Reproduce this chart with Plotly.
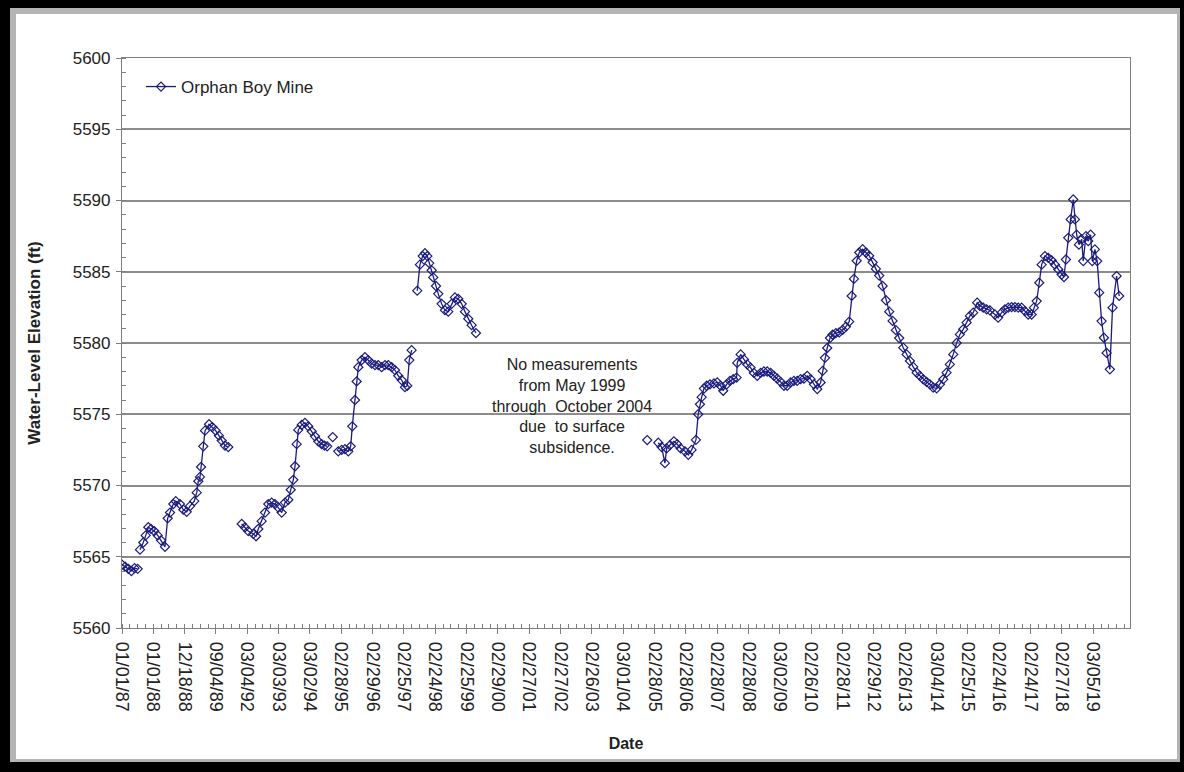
import plotly.graph_objects as go

# ---------------- data ----------------
# x is measured in axis units: one unit per minor tick, a date label every 4 units
tick_labels = ["01/01/87", "01/01/88", "12/18/88", "09/04/89", "03/04/92", "03/03/93",
               "03/02/94", "02/28/95", "02/29/96", "02/25/97", "02/24/98", "02/25/99",
               "02/29/00", "02/27/01", "02/27/02", "02/26/03", "03/01/04", "02/28/05",
               "02/28/06", "02/28/07", "02/28/08", "03/02/09", "02/26/10", "02/28/11",
               "02/29/12", "02/26/13", "03/04/14", "02/25/15", "02/24/16", "02/24/17",
               "02/27/18", "03/05/19"]
tick_pos = [4 * i for i in range(len(tick_labels))]

seg1987_x = [0, 0.4, 0.8, 1.2, 1.6, 2.0]
seg1987_y = [5564.45, 5564.3, 5564.15, 5564.0, 5564.2, 5564.15]

seg1988_x = [2.3, 2.72, 3.03, 3.36, 3.70, 4.12, 4.56, 4.98, 5.49, 5.83, 6.13, 6.55, 6.86, 7.40,
             7.83, 8.26, 8.68, 9.23, 9.54, 9.74, 9.96, 10.09, 10.38, 10.60, 11.11, 11.53, 11.96,
             12.38, 12.73, 13.15, 13.57]
seg1988_y = [5565.5, 5566.0, 5566.5, 5567.07, 5566.95, 5566.8, 5566.5, 5566.15, 5565.7, 5567.7,
             5568.1, 5568.7, 5568.9, 5568.7, 5568.3, 5568.15, 5568.55, 5568.9, 5569.5, 5570.3,
             5570.6, 5571.3, 5572.75, 5573.85, 5574.3, 5574.1, 5573.85, 5573.5, 5573.15, 5572.8,
             5572.7]

seg1992_x = [15.28, 15.70, 16.12, 16.76, 17.11, 17.40, 17.83, 18.26, 18.68, 19.11, 19.53, 19.95,
             20.39, 20.81, 21.23, 21.54, 21.87, 22.09, 22.30, 22.51, 22.94, 23.36, 23.78, 24.22,
             24.64, 25.06, 25.49, 25.85, 26.2]
seg1992_y = [5567.3, 5567.06, 5566.8, 5566.6, 5566.44, 5566.95, 5567.5, 5568.1, 5568.7, 5568.8,
             5568.7, 5568.45, 5568.1, 5568.8, 5569.0, 5569.7, 5570.4, 5571.35, 5572.9, 5573.9,
             5574.25, 5574.4, 5574.15, 5573.8, 5573.45, 5573.1, 5572.9, 5572.8, 5572.75]

single1994_x = [26.9]
single1994_y = [5573.4]

seg1995_x = [27.61, 28.05, 28.47, 28.89, 29.20, 29.40, 29.75, 29.96, 30.17, 30.60, 31.02, 31.44,
             31.88, 32.30, 32.72, 33.15, 33.58, 34.00, 34.43, 34.85, 35.27, 35.71, 36.13, 36.42,
             36.68, 36.98]
seg1995_y = [5572.4, 5572.5, 5572.55, 5572.4, 5572.75, 5574.15, 5576.0, 5577.3, 5578.3, 5578.8,
             5579.0, 5578.8, 5578.55, 5578.45, 5578.45, 5578.3, 5578.45, 5578.45, 5578.3, 5578.1,
             5577.7, 5577.4, 5576.9, 5577.0, 5578.8, 5579.5]

seg1997_x = [37.70, 38.04, 38.39, 38.68, 38.98, 39.23, 39.54, 39.74, 40.09, 40.38, 40.81, 41.23,
             41.66, 42.09, 42.51, 42.93, 43.37, 43.79, 44.21, 44.64, 45.19]
seg1997_y = [5583.67, 5585.5, 5586.1, 5586.3, 5586.1, 5585.6, 5585.1, 5584.6, 5584.0, 5583.45,
             5582.75, 5582.3, 5582.2, 5582.75, 5583.2, 5583.1, 5582.75, 5582.2, 5581.7, 5581.25,
             5580.7]

single2004_x = [67.06]
single2004_y = [5573.19]

seg2005_x = [68.47, 68.90, 69.32, 69.54, 69.96, 70.47, 70.89, 71.33, 71.88, 72.30, 72.73, 73.28,
             73.57, 73.79, 74.01, 74.30, 74.65, 75.07, 75.58, 76.00, 76.43, 76.76, 77.20, 77.62,
             78.04, 78.47, 78.55, 78.99, 79.41, 79.83, 80.26, 80.68, 81.11, 81.54, 81.96, 82.38,
             82.82, 83.24, 83.66, 84.09, 84.51, 84.93, 85.37, 85.79, 86.21, 86.65, 87.07, 87.49,
             87.92, 88.35, 88.77, 89.20, 89.46, 89.75, 90.04, 90.39, 90.73, 91.15, 91.57, 92.01,
             92.43, 92.85, 93.16, 93.45, 93.80, 94.13, 94.56, 94.98, 95.40, 95.84, 96.26, 96.68,
             97.11, 97.54, 97.96, 98.39, 98.81, 99.23, 99.75, 100.18, 100.60, 101.02, 101.46,
             101.88, 102.30, 102.73, 103.15, 103.57, 104.01, 104.43, 104.85, 105.28, 105.70,
             106.13, 106.56, 106.98, 107.40, 107.84, 108.26, 108.68, 109.19, 109.53, 109.96,
             110.39, 110.81, 111.45, 111.87, 112.31, 112.73, 113.15, 113.58, 114.00, 114.43,
             114.86, 115.28, 115.70, 116.14, 116.43, 116.78, 117.11, 117.42, 117.84, 118.26,
             118.69, 119.12, 119.54, 119.97, 120.27, 120.52, 120.82, 121.12, 121.45, 121.67,
             121.89, 122.18, 122.53, 122.73, 123.07, 123.37, 123.67, 123.88, 124.22, 124.51,
             124.77, 125.07, 125.37, 125.71, 126.13, 126.47, 126.99, 127.32]
seg2005_y = [5573.0, 5572.7, 5571.57, 5572.6, 5572.84, 5573.1, 5572.9, 5572.6, 5572.4, 5572.15,
             5572.5, 5573.2, 5575.0, 5575.7, 5576.2, 5576.8, 5577.0, 5577.1, 5577.16, 5577.23,
             5577.0, 5576.65, 5577.1, 5577.34, 5577.46, 5577.57, 5578.6, 5579.2, 5578.85, 5578.5,
             5578.27, 5577.9, 5577.7, 5577.9, 5578.0, 5578.0, 5577.9, 5577.7, 5577.5, 5577.27,
             5577.0, 5577.0, 5577.23, 5577.34, 5577.34, 5577.46, 5577.5, 5577.7, 5577.46, 5577.1,
             5576.77, 5577.23, 5578.04, 5578.96, 5579.65, 5580.35, 5580.58, 5580.7, 5580.74,
             5580.92, 5581.15, 5581.5, 5583.3, 5584.5, 5585.77, 5586.35, 5586.58, 5586.35,
             5586.12, 5585.66, 5585.2, 5584.73,
             5584.0, 5583.0, 5582.2, 5581.55, 5580.9, 5580.35, 5579.67, 5579.2, 5578.74, 5578.32,
             5577.92, 5577.69, 5577.45, 5577.27, 5577.1, 5576.87, 5576.82, 5577.1, 5577.45,
             5577.92, 5578.5, 5579.2, 5580.0, 5580.6, 5580.96, 5581.43, 5581.9, 5582.13, 5582.83,
             5582.6, 5582.48, 5582.36, 5582.29, 5582.0, 5581.78, 5582.13, 5582.36, 5582.48,
             5582.52, 5582.52, 5582.48, 5582.48, 5582.24, 5582.0, 5582.0, 5582.48, 5582.94,
             5584.23, 5585.5, 5586.1, 5585.98, 5585.8, 5585.5, 5585.16, 5584.8, 5584.63, 5585.86,
             5587.38, 5588.67, 5590.07, 5588.67, 5587.6, 5586.9, 5587.27, 5585.75, 5587.5,
             5587.15, 5587.6, 5585.75, 5586.57, 5585.75, 5583.53, 5581.54, 5580.37, 5579.3,
             5578.15, 5582.48, 5584.7, 5583.3]

segments = [(seg1987_x, seg1987_y), (seg1988_x, seg1988_y), (seg1992_x, seg1992_y),
            (single1994_x, single1994_y), (seg1995_x, seg1995_y), (seg1997_x, seg1997_y),
            (single2004_x, single2004_y), (seg2005_x, seg2005_y)]

xs, ys = [], []
for sx, sy in segments:
    assert len(sx) == len(sy)
    xs += list(sx) + [None]
    ys += list(sy) + [None]

# ---------------- figure ----------------
W, H = 1184, 772
ML, MR, MT, MB = 122, 54, 58, 144
PW, PH = W - ML - MR, H - MT - MB


def px(x):
    return (x - ML) / PW


def py(y):
    return (H - MB - y) / PH


NAVY = "#1b1b7e"
FONT = "Liberation Sans, Arial, sans-serif"
TXT = "#222222"

fig = go.Figure()
fig.add_trace(go.Scatter(
    x=xs, y=ys, mode="lines+markers", name="Orphan Boy Mine",
    line=dict(color=NAVY, width=1.3),
    marker=dict(symbol="diamond-open", size=7, color=NAVY, line=dict(width=1.2, color=NAVY)),
    connectgaps=False,
))

fig.add_annotation(
    x=57.45, y=5575.6, xref="x", yref="y",
    text="No measurements<br>from May 1999<br>through  October 2004<br>due  to surface<br>subsidence.",
    showarrow=False, align="center", font=dict(family=FONT, size=16, color=TXT),
)

# outer frame
fig.add_shape(type="rect", xref="paper", yref="paper", layer="below",
              x0=px(10), x1=px(1180), y0=py(762), y1=py(8),
              fillcolor="#b4b4b4", line=dict(width=0))
fig.add_shape(type="rect", xref="paper", yref="paper", layer="below",
              x0=px(16), x1=px(1177), y0=py(759), y1=py(14),
              fillcolor="white", line=dict(width=0))

fig.update_layout(
    width=W, height=H, autosize=False,
    margin=dict(l=ML, r=MR, t=MT, b=MB),
    paper_bgcolor="black", plot_bgcolor="white",
    font=dict(family=FONT, size=17, color=TXT),
    showlegend=True,
    legend=dict(x=px(141), y=py(87), xanchor="left", yanchor="middle",
                bgcolor="rgba(0,0,0,0)", font=dict(size=17, color=TXT)),
    xaxis=dict(
        range=[0, 128.7], tickmode="array", tickvals=tick_pos, ticktext=tick_labels,
        tickangle=90, tickfont=dict(size=18, color=TXT), ticklabelstandoff=4,
        showgrid=False, zeroline=False,
        showline=True, linecolor="#808080", linewidth=1.2, mirror=True,
        ticks="outside", ticklen=5, tickcolor="#808080",
        minor=dict(dtick=1, tick0=0, ticks="inside", ticklen=4, tickcolor="#808080", showgrid=False),
        title=dict(text="<b>Date</b>", font=dict(size=16, color=TXT), standoff=27),
    ),
    yaxis=dict(
        range=[5560, 5600], tickmode="linear", tick0=5560, dtick=5,
        tickfont=dict(size=17, color=TXT), ticklabelstandoff=2,
        showgrid=True, gridcolor="#8c8c8c", gridwidth=1.5, zeroline=False,
        showline=True, linecolor="#808080", linewidth=1.2, mirror=True,
        ticks="outside", ticklen=5, tickcolor="#808080",
        minor=dict(dtick=1, ticks="inside", ticklen=4, tickcolor="#808080", showgrid=False),
        title=dict(text="<b>Water-Level Elevation (ft)</b>", font=dict(size=17, color=TXT), standoff=27),
    ),
)

fig.write_html("out.html")
